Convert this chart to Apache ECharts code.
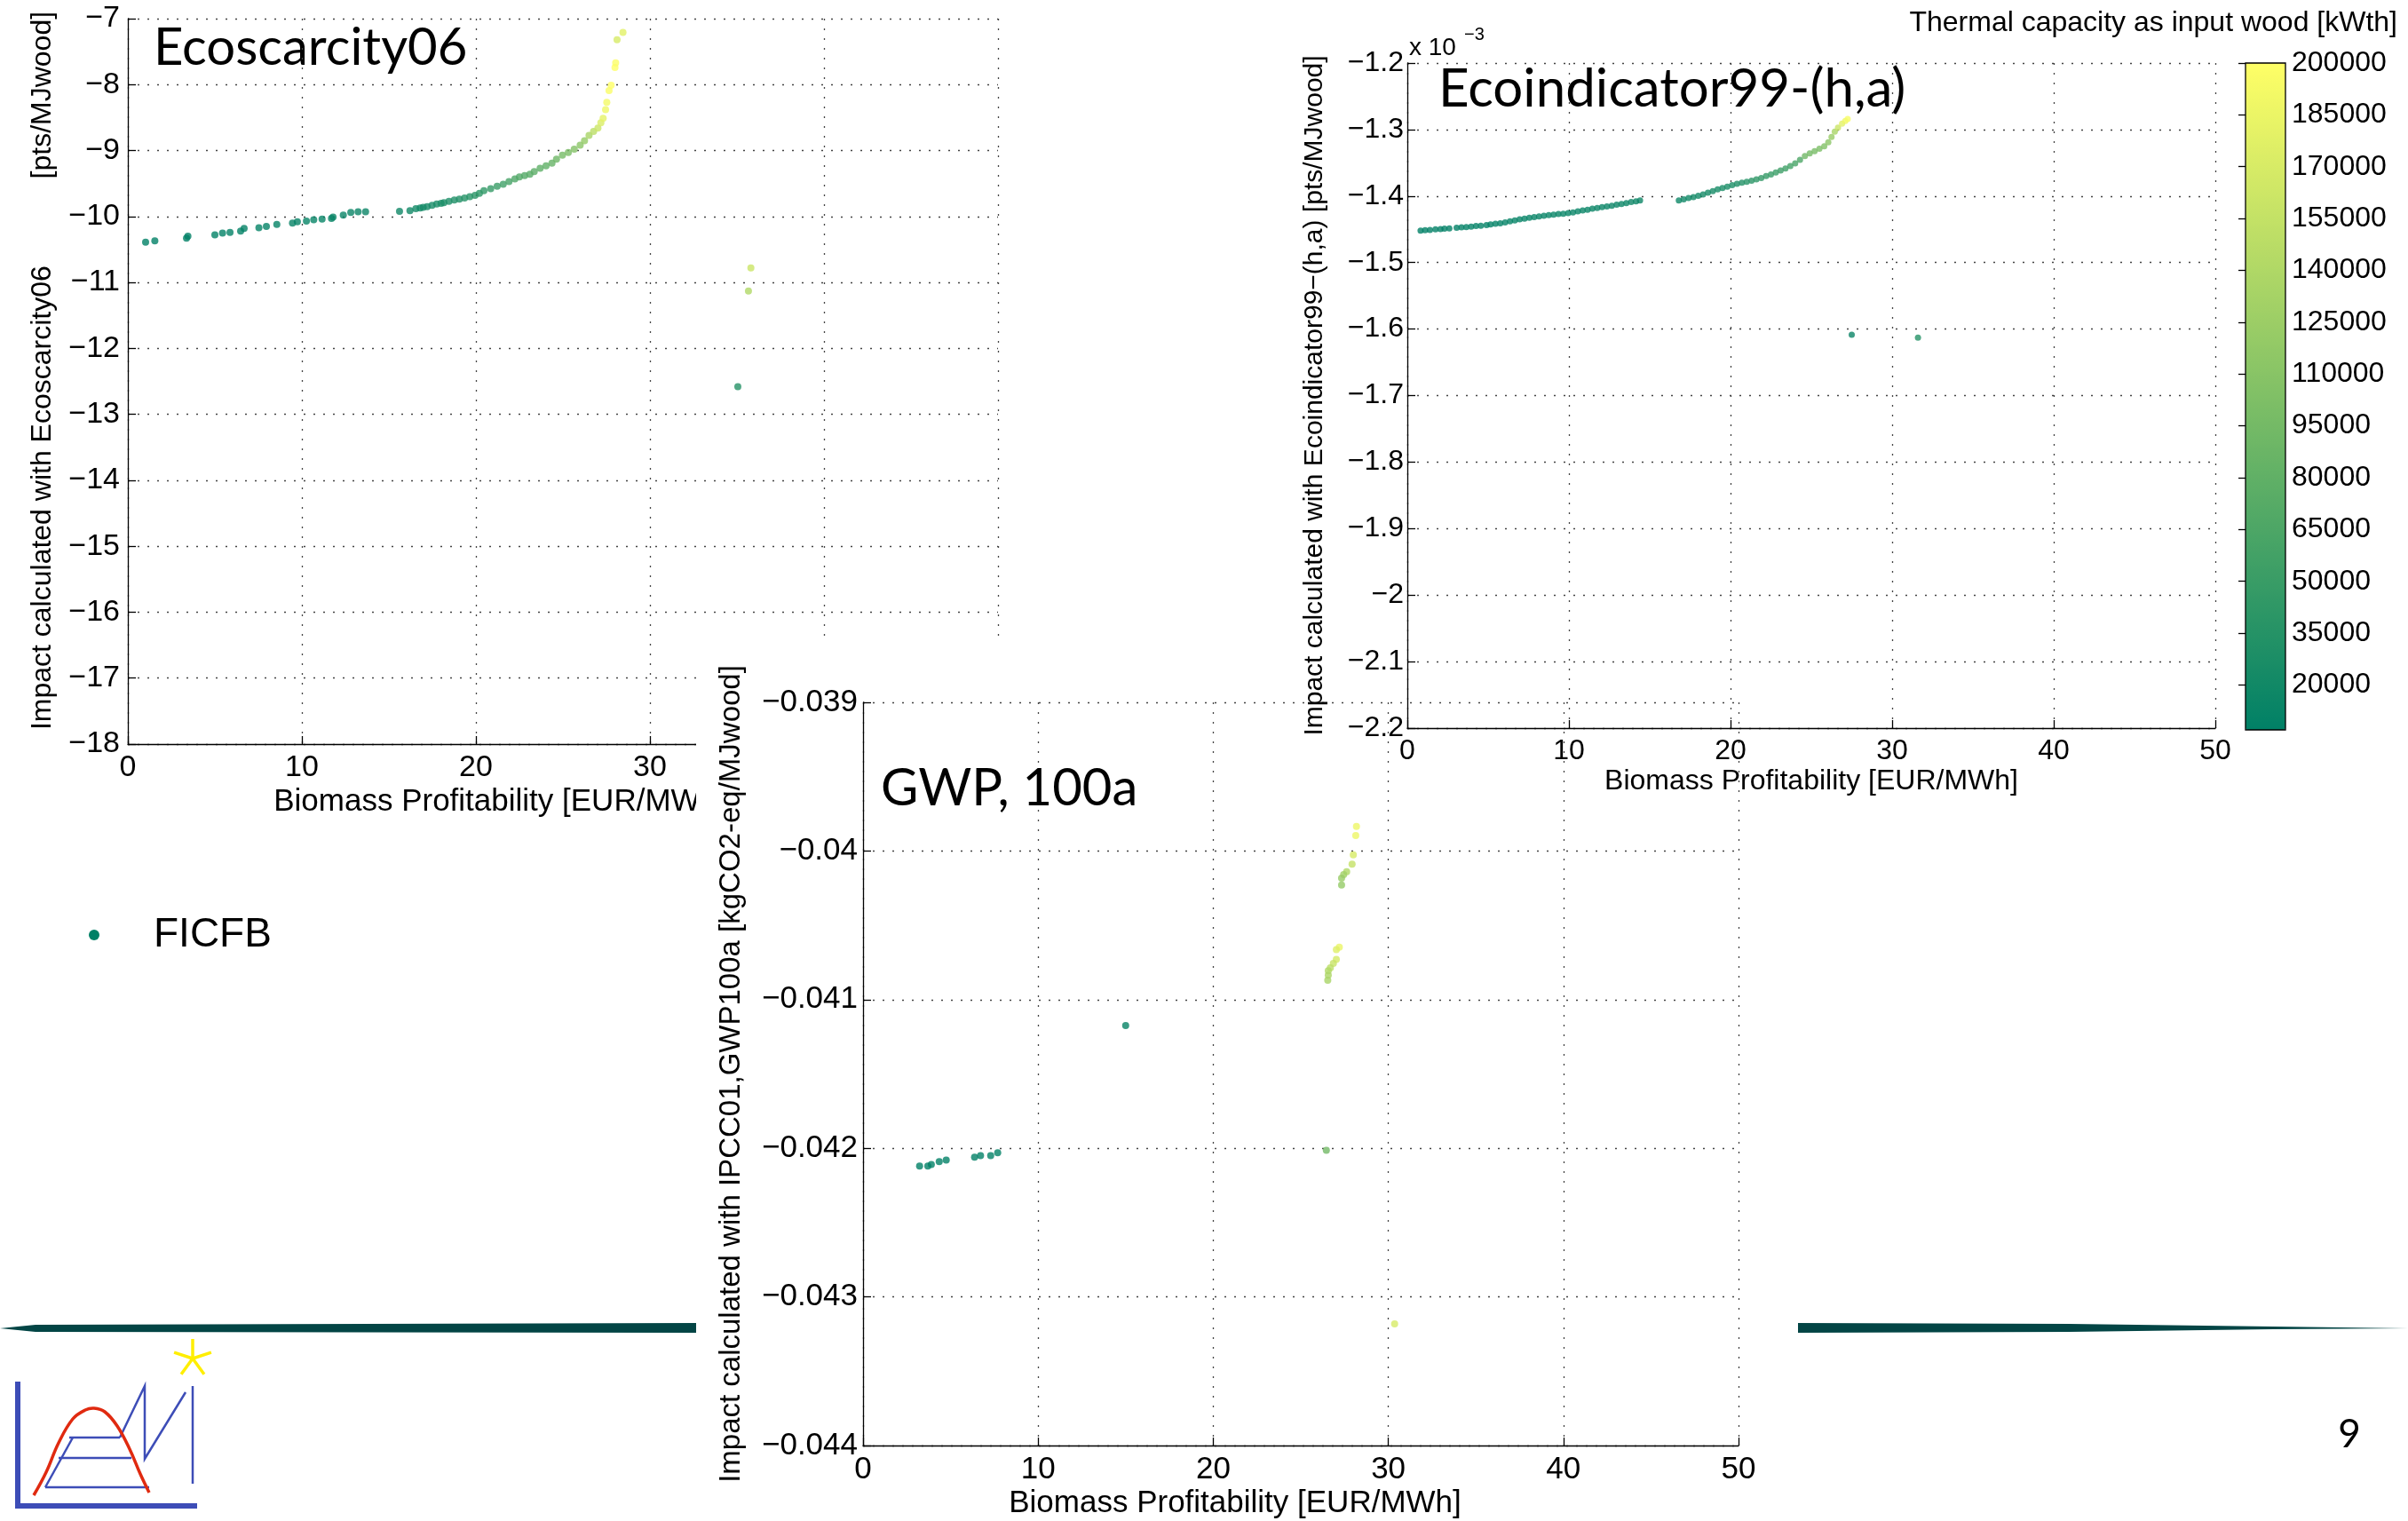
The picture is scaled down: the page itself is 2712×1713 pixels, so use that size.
<!DOCTYPE html>
<html><head><meta charset="utf-8">
<script src="https://cdn.jsdelivr.net/npm/echarts@6/dist/echarts.min.js"></script>
<style>html,body{margin:0;padding:0;background:#fff}#c{width:2712px;height:1713px}</style>
</head><body><div id="c"></div>
<script>
// ---------- Ecoscarcity06 ----------
const eco06X = [1.02,1.55,3.37,3.45,5.0,5.44,5.87,6.48,6.68,7.53,7.96,8.56,9.46,9.74,10.26,10.68,11.16,11.70,11.79,12.38,12.81,13.23,13.66,
  15.61,16.21,16.55,16.8,16.97,17.2,17.48,17.75,18.0,18.16,18.45,18.76,19.05,19.35,19.65,19.95,20.2,20.46,20.85,21.22,21.57,21.9,22.24,22.5,22.8,23.1,23.35,23.69,24.03,24.37,24.63,24.97,25.31,25.65,25.99,26.24,26.5,26.76,27.01,27.18,27.31,27.45,27.52,27.65,27.77,27.99,28.03,28.11,28.45,
  35.8,35.66,35.05];
const eco06Y = [-10.39,-10.37,-10.33,-10.30,-10.28,-10.25,-10.24,-10.22,-10.18,-10.17,-10.15,-10.12,-10.10,-10.08,-10.07,-10.05,-10.04,-10.03,-10.01,-9.98,-9.94,-9.93,-9.93,
  -9.92,-9.91,-9.88,-9.87,-9.86,-9.85,-9.83,-9.81,-9.80,-9.79,-9.77,-9.75,-9.735,-9.72,-9.70,-9.68,-9.65,-9.61,-9.58,-9.54,-9.51,-9.47,-9.43,-9.40,-9.38,-9.36,-9.32,-9.27,-9.23,-9.19,-9.13,-9.07,-9.03,-8.98,-8.92,-8.85,-8.77,-8.71,-8.66,-8.58,-8.51,-8.38,-8.27,-8.09,-8.01,-7.74,-7.67,-7.32,-7.21,
  -10.78,-11.13,-12.58];
const eco06Cap = [8000,8500,9000,9000,9500,9500,10000,10000,10500,11000,11000,11500,12000,12000,12500,13000,13000,13500,13500,14000,14500,15000,15000,
  18000,19000,20000,21000,22000,23000,24000,25000,26000,27000,28000,30000,32000,34000,36000,38000,40000,43000,46000,50000,55000,60000,65000,68000,70000,73000,76000,78000,80000,84000,90000,96000,100000,106000,112000,120000,135000,148000,160000,172000,180000,188000,192000,196000,200000,200000,198000,170000,178000,
  160000,140000,35000];

// ---------- Ecoindicator99-(h,a)  (values x 10^-3) ----------
const eco99X = [0.82,1.1,1.4,1.74,2.05,2.3,2.6,3.05,3.35,3.65,3.95,4.25,4.55,4.9,
  5.15,5.45,5.75,6.05,6.35,6.65,6.95,7.25,7.55,7.85,8.15,8.45,8.75,9.05,9.35,9.65,9.95,10.25,10.55,10.85,11.15,11.45,11.75,12.05,12.35,12.65,12.95,13.25,13.55,13.85,14.15,14.4,
  16.8,17.1,17.4,17.7,18.0,18.3,18.6,18.9,19.2,19.5,19.8,20.1,20.4,20.7,21.0,21.3,21.6,21.9,22.2,22.5,22.8,23.1,23.4,23.7,24.0,24.3,24.6,24.9,25.2,25.5,25.8,
  26.05,26.25,26.45,26.65,26.9,27.1,27.25,
  27.5,31.6];
const eco99Y = [-1.452,-1.4515,-1.451,-1.450,-1.4495,-1.449,-1.4485,-1.4475,-1.447,-1.4465,-1.446,-1.445,-1.4445,-1.4435,
  -1.4425,-1.4415,-1.441,-1.4395,-1.438,-1.4365,-1.435,-1.434,-1.4325,-1.4315,-1.4305,-1.4295,-1.4285,-1.428,-1.427,-1.4265,-1.4255,-1.4245,-1.423,-1.4215,-1.4205,-1.419,-1.418,-1.4165,-1.4155,-1.4145,-1.413,-1.412,-1.4105,-1.409,-1.408,-1.4065,
  -1.4065,-1.405,-1.403,-1.4015,-1.3995,-1.3975,-1.395,-1.3925,-1.390,-1.388,-1.386,-1.3835,-1.3815,-1.380,-1.3785,-1.377,-1.375,-1.373,-1.370,-1.3675,-1.3645,-1.3615,-1.3585,-1.355,-1.351,-1.3455,-1.340,-1.336,-1.3325,-1.329,-1.325,
  -1.319,-1.311,-1.303,-1.297,-1.291,-1.287,-1.284,
  -1.6085,-1.613];
const eco99Cap = [8000,8000,8000,8500,8500,8500,9000,9000,9000,9500,9500,9500,10000,10000,
  10000,10200,10400,10600,10800,11000,11200,11400,11600,11800,12000,12200,12400,12600,12800,13000,13200,13400,13600,13800,14000,14200,14400,14600,14800,15000,15200,15400,15600,15800,16000,16200,
  17000,18000,19000,20000,21000,22000,23000,24000,25000,26000,27000,28000,30000,33000,36000,39000,42000,45000,47000,49000,51000,53000,55000,58000,61000,65000,92000,95000,98000,101000,105000,
  112000,122000,135000,160000,178000,188000,195000,
  15000,35000];

// ---------- GWP, 100a ----------
const gwpX = [3.23,3.70,3.90,4.35,4.75,6.37,6.71,7.29,7.69,15.0,26.46,30.36,
  28.18,28.14,28.0,27.93,27.62,27.45,27.33,27.33,
  27.2,27.03,27.03,26.86,26.69,26.57,26.57,26.54];
const gwpY = [-0.04212,-0.04212,-0.04211,-0.04209,-0.04208,-0.04206,-0.04205,-0.04205,-0.04203,-0.041175,-0.042013,-0.043181,
  -0.039835,-0.039896,-0.040026,-0.040089,-0.040139,-0.040159,-0.040183,-0.040229,
  -0.040647,-0.040663,-0.04073,-0.040756,-0.040786,-0.040806,-0.040836,-0.04087];
const gwpCap = [8000,8000,8000,8500,8500,9000,9000,9500,9500,12000,94000,170000,
  187000,187000,170000,155000,140000,130000,123000,120000,
  185000,175000,168000,158000,150000,142000,138000,135000];

// ---------- colour bar ----------
const capMin = 7000, capMax = 200000;
const cbTicks = [20000,35000,50000,65000,80000,95000,110000,125000,140000,155000,170000,185000,200000];

const FONT = '"Liberation Sans", Arial, Helvetica, sans-serif';
const TFONT = 'Lato, "Open Sans", sans-serif';
const fmt = v => { const n = parseFloat(Number(v).toFixed(6)); return n < 0 ? '\u2212' + String(-n) : String(n); };
const zip = (xs, ys, cs) => xs.map((x, i) => [x, ys[i], cs[i]]);

function axis(gridIndex, min, max, interval, fs, margin, zl, extra) {
  return Object.assign({
    type: 'value', gridIndex, min, max, interval, zlevel: zl, z: 2,
    axisLine: {show: true, onZero: false, lineStyle: {color: '#000', width: 1.3}},
    axisTick: {show: true, inside: true, length: 9, lineStyle: {color: '#000', width: 1.3}},
    axisLabel: {show: true, color: '#000', fontSize: fs, fontFamily: FONT, margin, formatter: fmt},
    splitLine: {show: true, lineStyle: {color: '#444', width: 1.3, type: [2, 9]}}
  }, extra);
}
function nameStyle(fs, pad) {
  const s = {color: '#000', fontSize: fs, fontFamily: FONT};
  if (pad) s.padding = pad;
  return s;
}

const chart = echarts.init(document.getElementById('c'), null, {renderer: 'canvas'});

const starArms = [-90, -18, 54, 126, 198].map(a => {
  const r = a * Math.PI / 180;
  return {type: 'line', zlevel: 0, silent: true,
    shape: {x1: 217, y1: 1530, x2: 217 + 22 * Math.cos(r), y2: 1530 + 22 * Math.sin(r)},
    style: {stroke: '#ffee00', lineWidth: 3.5}};
});

const option = {
  animation: false,
  backgroundColor: '#fff',
  grid: [
    {left: 144, top: 21, width: 980, height: 817, zlevel: 0},
    {left: 1585, top: 71, width: 910, height: 749, zlevel: 3},
    {left: 972, top: 791, width: 986, height: 837, zlevel: 2},
    {left: 2529, top: 71, width: 45, height: 751, show: true, borderColor: '#000', borderWidth: 1.3, backgroundColor: 'transparent', zlevel: 3, z: 10}
  ],
  xAxis: [
    axis(0, 0, 50, 10, 34, 10, 0, {name: 'Biomass Profitability [EUR/MWh]', nameLocation: 'middle', nameGap: 48, nameTextStyle: nameStyle(35, [0, 142, 0, 0])}),
    axis(1, 0, 50, 10, 32, 10, 3, {name: 'Biomass Profitability [EUR/MWh]', nameLocation: 'middle', nameGap: 44, nameTextStyle: nameStyle(32)}),
    axis(2, 0, 50, 10, 35, 10, 2, {name: 'Biomass Profitability [EUR/MWh]', nameLocation: 'middle', nameGap: 48, nameTextStyle: nameStyle(35, [0, 148, 0, 0])}),
    {type: 'value', gridIndex: 3, min: 0, max: 1, show: false, zlevel: 3}
  ],
  yAxis: [
    axis(0, -18, -7, 1, 34, 9, 0, {name: 'Impact calculated with Ecoscarcity06           [pts/MJwood]', nameLocation: 'middle', nameGap: 80, nameTextStyle: nameStyle(32, [0, 0, 0, 24])}),
    axis(1, -2.2, -1.2, 0.1, 32, 4, 3, {name: 'Impact calculated with Ecoindicator99\u2212(h,a) [pts/MJwood]', nameLocation: 'middle', nameGap: 89, nameTextStyle: nameStyle(30)}),
    axis(2, -0.044, -0.039, 0.001, 35, 6, 2, {name: 'Impact calculated with IPCC01,GWP100a [kgCO2-eq/MJwood]', nameLocation: 'middle', nameGap: 132, nameTextStyle: nameStyle(33)}),
    {type: 'value', gridIndex: 3, min: capMin, max: capMax, position: 'right', zlevel: 3, z: 11,
      axisLine: {show: false},
      axisTick: {show: true, inside: true, length: 8, customValues: cbTicks, lineStyle: {color: '#000', width: 1.3}},
      axisLabel: {show: true, inside: false, margin: 7, color: '#000', fontSize: 32, fontFamily: FONT, customValues: cbTicks, formatter: v => String(Math.round(v))},
      splitLine: {show: false}}
  ],
  visualMap: {
    type: 'continuous', min: capMin, max: capMax, dimension: 2, seriesIndex: [0, 1, 2],
    inRange: {color: ['#008066', '#ffff66']},
    orient: 'vertical', left: 2529, top: 71, itemWidth: 45, itemHeight: 751,
    padding: 0, calculable: false, text: null, hoverLink: false, zlevel: 3, z: 5
  },
  series: [
    {type: 'scatter', xAxisIndex: 0, yAxisIndex: 0, zlevel: 0, z: 3, symbol: 'circle', symbolSize: 8, silent: true,
      data: zip(eco06X, eco06Y, eco06Cap)},
    {type: 'scatter', xAxisIndex: 1, yAxisIndex: 1, zlevel: 3, z: 3, symbol: 'circle', symbolSize: 7, silent: true,
      data: zip(eco99X, eco99Y, eco99Cap)},
    {type: 'scatter', xAxisIndex: 2, yAxisIndex: 2, zlevel: 2, z: 3, symbol: 'circle', symbolSize: 8, silent: true,
      data: zip(gwpX, gwpY, gwpCap)}
  ],
  graphic: {elements: [
    // slide decorations (bottom layer)
    {type: 'polygon', zlevel: 0, silent: true, shape: {points: [[0, 1496], [40, 1492], [784, 1490], [784, 1501], [40, 1500]]}, style: {fill: '#034545'}},
    {type: 'polygon', zlevel: 0, silent: true, shape: {points: [[2025, 1490], [2330, 1491], [2560, 1494], [2712, 1496], [2560, 1497], [2330, 1500], [2025, 1501]]}, style: {fill: '#034545'}},
    {type: 'circle', zlevel: 0, silent: true, shape: {cx: 106, cy: 1053, r: 6}, style: {fill: '#008066'}},
    {type: 'text', zlevel: 0, silent: true, x: 173, y: 1053, style: {text: 'FICFB', font: '46px ' + FONT, fill: '#000', verticalAlign: 'middle'}},
    {type: 'text', zlevel: 0, silent: true, x: 2646, y: 1616, style: {text: '9', font: '44px ' + TFONT, fill: '#000', align: 'center', verticalAlign: 'middle'}},
    // logo
    {type: 'polyline', zlevel: 0, silent: true, shape: {points: [[20, 1556], [20, 1696], [222, 1696]]}, style: {stroke: '#3d4db7', lineWidth: 6, fill: null}},
    {type: 'polyline', zlevel: 0, silent: true, shape: {points: [[51, 1675], [82, 1619]]}, style: {stroke: '#3d4db7', lineWidth: 2.5, fill: null}},
    {type: 'line', zlevel: 0, silent: true, shape: {x1: 78, y1: 1619, x2: 135, y2: 1619}, style: {stroke: '#3d4db7', lineWidth: 2.5}},
    {type: 'line', zlevel: 0, silent: true, shape: {x1: 66, y1: 1642, x2: 148, y2: 1642}, style: {stroke: '#3d4db7', lineWidth: 2.5}},
    {type: 'line', zlevel: 0, silent: true, shape: {x1: 51, y1: 1675, x2: 168, y2: 1675}, style: {stroke: '#3d4db7', lineWidth: 2.5}},
    {type: 'polyline', zlevel: 0, silent: true, shape: {points: [[135, 1619], [163, 1561], [163, 1643], [209, 1568]]}, style: {stroke: '#3d4db7', lineWidth: 2.5, fill: null}},
    {type: 'line', zlevel: 0, silent: true, shape: {x1: 217, y1: 1561, x2: 217, y2: 1671}, style: {stroke: '#3d4db7', lineWidth: 2.5}},
    {type: 'polyline', zlevel: 0, silent: true, shape: {smooth: 0.4, points: [[38, 1684], [52, 1658], [66, 1625], [82, 1598], [96, 1588], [106, 1586], [118, 1590], [132, 1606], [146, 1632], [158, 1660], [168, 1681]]}, style: {stroke: '#e02a10', lineWidth: 3.5, fill: null}},
  ].concat(starArms).concat([
    // chart titles and notes
    {type: 'text', zlevel: 0, silent: true, x: 173, y: 54, style: {text: 'Ecoscarcity06', font: '58px ' + TFONT, fill: '#000', verticalAlign: 'middle'}},
    // white panel of the GWP figure
    {type: 'rect', zlevel: 1, silent: true, shape: {x: 784, y: 723, width: 1240, height: 990}, style: {fill: '#fff'}},
    {type: 'text', zlevel: 2, z: 10, silent: true, x: 992, y: 888, style: {text: 'GWP, 100a', font: '58px ' + TFONT, fill: '#000', verticalAlign: 'middle'}},
    {type: 'text', zlevel: 3, z: 10, silent: true, x: 1620, y: 101, style: {text: 'Ecoindicator99-(h,a)', font: '60px ' + TFONT, fill: '#000', verticalAlign: 'middle'}},
    {type: 'text', zlevel: 3, z: 10, silent: true, x: 1587, y: 54, style: {text: 'x 10', font: '28px ' + FONT, fill: '#000', verticalAlign: 'middle'}},
    {type: 'text', zlevel: 3, z: 10, silent: true, x: 1649, y: 39, style: {text: '\u22123', font: '20px ' + FONT, fill: '#000', verticalAlign: 'middle'}},
    {type: 'text', zlevel: 3, z: 10, silent: true, x: 2700, y: 26, style: {text: 'Thermal capacity as input wood [kWth]', font: '32px ' + FONT, fill: '#000', align: 'right', verticalAlign: 'middle'}}
  ])}
};
chart.setOption(option);
</script></body></html>
